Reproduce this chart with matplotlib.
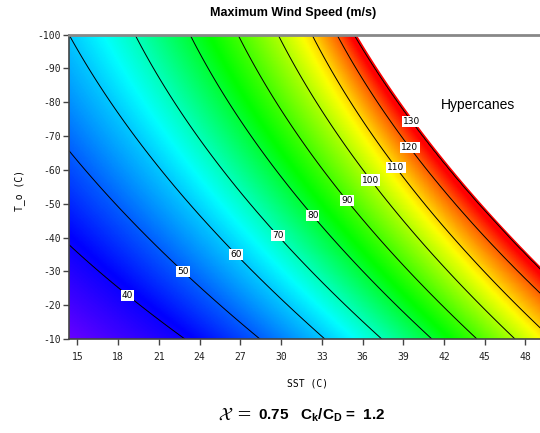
import numpy as np
import matplotlib
matplotlib.use('Agg')
import matplotlib.pyplot as plt
from matplotlib.colors import LinearSegmentedColormap, Normalize

plt.rcParams['axes.unicode_minus'] = False
plt.rcParams['mathtext.fontset'] = 'custom'
plt.rcParams['mathtext.rm'] = 'Liberation Sans:bold'
plt.rcParams['mathtext.it'] = 'Liberation Sans:bold'
plt.rcParams['mathtext.bf'] = 'Liberation Sans:bold'

sst_ticks = [15, 18, 21, 24, 27, 30, 33, 36, 39, 42, 45, 48]
to_ticks = [-100, -90, -80, -70, -60, -50, -40, -30, -20, -10]
levels = [40, 50, 60, 70, 80, 90, 100, 110, 120, 130]

# SST where each isotach crosses T_o = -100, -55, -10 (read off the picture,
# the 30 row and the 134 row = hypercane edge are estimates)
to_ref = [-100, -55, -10]
iso_speed = [30, 40, 50, 60, 70, 80, 90, 100, 110, 120, 130, 134]
sst_at_m100 = [-7.6, 2.90, 8.42, 14.39, 19.25, 23.30, 26.83, 29.78, 32.28, 34.12, 35.38, 35.55]
sst_at_m55 = [1.2, 10.19, 16.67, 22.19, 26.69, 30.59, 34.05, 36.99, 39.56, 41.77, 43.48, 43.66]
sst_at_m10 = [14.0, 22.93, 28.45, 33.23, 37.42, 41.11, 44.43, 47.23, 49.95, 52.74, 54.58, 54.76]

# where the contour labels sit
label_sst = [18.66, 22.64, 26.47, 29.56, 32.21, 34.79, 36.63, 38.54, 39.57, 39.6]
label_to = [-22.7, -29.5, -34.3, -39.9, -46.1, -50.9, -57.1, -60.9, -66.8, -74.2]

# build the field from the isotach positions
sst = np.linspace(14.39, 50.5, 700)
to = np.linspace(-100, -10, 400)
a = np.array(sst_at_m100)
b = np.array(sst_at_m55)
c = np.array(sst_at_m10)
t = ((to - to_ref[0]) / (to_ref[1] - to_ref[0]))[:, None]
xs = a + (b - a) * t + (c - 2 * b + a) / 2 * t * (t - 1)
V = np.array([np.interp(sst, row, iso_speed) for row in xs])
edge = xs[:, -1]  # hypercane edge for every T_o row

vmin, vmax = 30, 134
nodes = [(30, (0.42, 0.0, 1.0)), (41, (0.0, 0.0, 1.0)), (65, (0.0, 1.0, 1.0)),
         (84, (0.0, 1.0, 0.0)), (107, (1.0, 1.0, 0.0)), (128, (1.0, 0.0, 0.0)),
         (134, (1.0, 0.0, 0.0))]
cmap = LinearSegmentedColormap.from_list(
    'wind', [((v - vmin) / (vmax - vmin), col) for v, col in nodes])

fig = plt.figure(figsize=(5.4, 4.33), dpi=100)
ax = fig.add_axes([0.1278, 0.217, 0.8956, 0.703])

ax.pcolormesh(sst, to, V, cmap=cmap, norm=Normalize(vmin, vmax), shading='gouraud',
              rasterized=True)
cs = ax.contour(sst, to, V, levels=levels, colors='k', linewidths=0.7)
ax.fill_betweenx(to, edge, 60, color='white', lw=0, zorder=3)
texts = ax.clabel(cs, levels, fmt='%d', fontsize=6.5, inline=False,
                  manual=list(zip(label_sst, label_to)))
for txt in texts:
    txt.set_rotation(0)
    txt.set_zorder(4)
    txt.set_bbox(dict(boxstyle='square,pad=0.12', fc='white', ec='none'))

ax.set_xlim(14.39, 50)
ax.set_ylim(-10, -100)
ax.set_xticks(sst_ticks)
ax.set_yticks(to_ticks)
ax.tick_params(direction='out', length=4, width=1, color='#444444',
               labelsize=7, labelcolor='#222222')
ax.tick_params(axis='x', pad=5)
ax.tick_params(axis='y', pad=2)
for lab in ax.get_xticklabels() + ax.get_yticklabels():
    lab.set_family('DejaVu Sans Mono')
ax.spines['top'].set_color('#888888')
ax.spines['top'].set_linewidth(2)
ax.spines['left'].set_color('#444444')
ax.spines['bottom'].set_color('#444444')
ax.spines['left'].set_linewidth(1.2)
ax.spines['bottom'].set_linewidth(1.2)
ax.spines['right'].set_visible(False)
for sp in ax.spines.values():
    sp.set_zorder(5)

ax.text(44.5, -79.3, 'Hypercanes', ha='center', va='center', fontsize=10,
        family='Liberation Sans', zorder=4)

fig.text(0.543, 0.970, 'Maximum Wind Speed (m/s)', ha='center', va='center',
         fontsize=9, fontweight='bold', family='Liberation Sans')
fig.text(0.569, 0.115, 'SST (C)', ha='center', va='center', fontsize=7,
         family='DejaVu Sans Mono')
fig.text(0.036, 0.56, 'T_o (C)', ha='center', va='center', fontsize=7,
         rotation=90, family='DejaVu Sans Mono')

fig.text(0.435, 0.042, r'$\mathcal{X}$ =', ha='center', va='center', fontsize=13,
         math_fontfamily='stix', family='DejaVu Serif')
fig.text(0.478, 0.042, r'0.75   C$_{\rm k}$/C$_{\rm D}$ =  1.2', ha='left', va='center',
         fontsize=11, fontweight='bold', family='Liberation Sans')

fig.savefig('out.png', dpi=100)
